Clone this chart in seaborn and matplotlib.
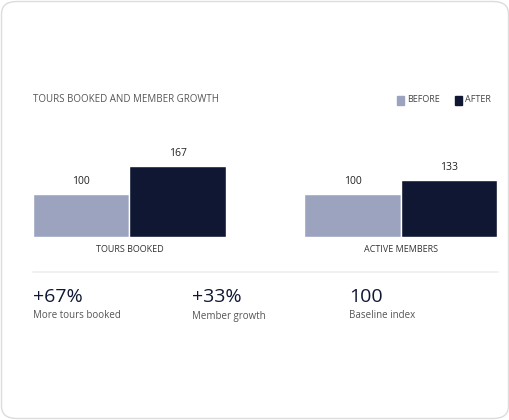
import matplotlib
matplotlib.use("Agg")
import matplotlib.pyplot as plt
import seaborn as sns
import pandas as pd
from matplotlib.patches import FancyBboxPatch, Rectangle

categories = ["TOURS BOOKED", "ACTIVE MEMBERS"]
phases = ["BEFORE", "AFTER"]
before_vals = [100, 100]
after_vals = [167, 133]
kpi_values = ["+67%", "+33%", "100"]
kpi_labels = ["More tours booked", "Member growth", "Baseline index"]

colors = {"BEFORE": "#9ca3bf", "AFTER": "#0f1733"}

df = pd.DataFrame({
    "category": categories * 2,
    "phase": ["BEFORE"] * 2 + ["AFTER"] * 2,
    "value": before_vals + after_vals,
})

sns.set_theme(style="white")
plt.rcParams["font.family"] = ["Open Sans", "DejaVu Sans"]

W, H = 510, 420
fig = plt.figure(figsize=(W / 100, H / 100), dpi=100)
fig.patch.set_facecolor("white")

def fy(y):
    return 1 - y / H

# card border
fig.patches.append(FancyBboxPatch((1.5 / W, 1.5 / H), (W - 3) / W, (H - 3) / H,
                                  boxstyle="round,pad=0,rounding_size=0.03",
                                  transform=fig.transFigure, fill=False,
                                  edgecolor="#dcdcdc", linewidth=1))

# bars axes: x 33..497 px, baseline at y=237, top at y=137
ax = fig.add_axes([33 / W, fy(237), 464 / W, 100 / H])
w = 0.71
sns.barplot(data=df, x="category", y="value", hue="phase", hue_order=phases,
            order=categories, palette=colors, width=w, ax=ax, saturation=1,
            edgecolor="white", linewidth=1, legend=False)
ax.set_xlim(-w / 2, 1 + w / 2)
ax.set_ylim(0, 100 / 0.426)
ax.axis("off")
for cont in ax.containers:
    ax.bar_label(cont, padding=5, fontsize=7.5, color="#222222")

for i, c in enumerate(categories):
    ax.text(i, -12 / 0.426, c, ha="center", va="center", fontsize=6.5, color="#333333")

# title and legend
fig.text(33 / W, fy(100), "TOURS BOOKED AND MEMBER GROWTH", fontsize=7,
         color="#555555", va="center")
for x0, p in [(397, "BEFORE"), (455, "AFTER")]:
    fig.patches.append(Rectangle((x0 / W, fy(105)), 7 / W, 9 / H,
                                 transform=fig.transFigure, color=colors[p]))
    fig.text((x0 + 10) / W, fy(100), p, fontsize=6.5, color="#444444", va="center")

# divider
fig.add_artist(plt.Line2D([33 / W, 498 / W], [fy(272), fy(272)],
                          transform=fig.transFigure, color="#eeeeee", linewidth=1.2))

# KPIs
for x0, v, lab in zip([33, 192, 349], kpi_values, kpi_labels):
    fig.text(x0 / W, fy(297), v, fontsize=14, color="#0f1733", va="center",
             fontweight="medium")
    fig.text(x0 / W, fy(316), lab, fontsize=7, color="#555555", va="center")

fig.savefig("out.png", dpi=100)
